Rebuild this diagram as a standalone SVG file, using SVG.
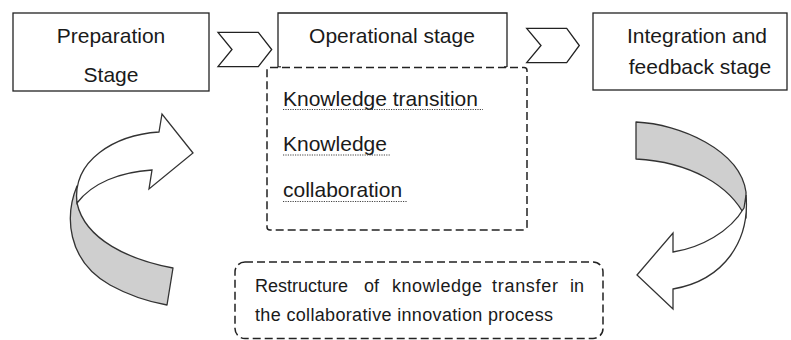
<svg xmlns="http://www.w3.org/2000/svg" width="791" height="340" viewBox="0 0 791 340">
<style>
.box{fill:#fff;stroke:#222;stroke-width:1.3}
.dash{fill:#fff;stroke:#222;stroke-width:1.5;stroke-dasharray:8 4}
.t{font-family:"Liberation Sans",Arial,sans-serif;font-size:21px;fill:#1a1a1a}
.tc{text-anchor:middle}
.s{font-size:18px}
.ul{stroke:#444;stroke-width:1;stroke-dasharray:1.2 1.2;fill:none}
.chev{fill:#fff;stroke:#222;stroke-width:1.3;stroke-linejoin:miter}
.band{fill:#cfcfcf;stroke:#333;stroke-width:1.3;stroke-linejoin:round}
.face{fill:#fff;stroke:#333;stroke-width:1.3;stroke-linejoin:miter}
</style>
<rect width="791" height="340" fill="#fff"/>
<g id="preparation">
<rect class="box" x="13" y="13" width="196" height="78"/>
<text class="t tc" x="111" y="43">Preparation</text>
<text class="t tc" x="111" y="82">Stage</text>
</g>
<g id="operational">
<path class="box" d="M278,67 V13 H507 V67 M278,67 H281 M504,67 H507" fill="none"/>
<text class="t tc" x="392" y="43">Operational stage</text>
</g>
<g id="integration">
<rect class="box" x="593" y="13" width="194" height="77"/>
<text class="t tc" x="697" y="43">Integration and</text>
<text class="t tc" x="700" y="74">feedback stage</text>
</g>
<g id="knowledge">
<rect class="dash" x="267" y="67.5" width="260" height="162.5" rx="3"/>
<text class="t" x="283" y="106">Knowledge transition</text>
<line class="ul" x1="283" y1="109.5" x2="483" y2="109.5"/>
<text class="t" x="283" y="151">Knowledge</text>
<line class="ul" x1="283" y1="155" x2="390" y2="155"/>
<text class="t" x="283" y="197">collaboration</text>
<line class="ul" x1="283" y1="201.5" x2="407" y2="201.5"/>
</g>
<g id="restructure">
<rect class="dash" x="235" y="262" width="368" height="76.5" rx="10"/>
<text class="t s" y="292"><tspan x="255">Restructure</tspan><tspan x="364">of</tspan><tspan x="392" textLength="90" lengthAdjust="spacing">knowledge</tspan><tspan x="492" textLength="66" lengthAdjust="spacing">transfer</tspan><tspan x="570">in</tspan></text>
<text class="t s" x="255" y="321" textLength="298" lengthAdjust="spacing">the collaborative innovation process</text>
</g>
<g id="connectors">
<polygon class="chev" points="218,32.3 258.3,32.3 271.7,49.5 258.3,66.7 218,66.7 232,49.5"/>
<polygon class="chev" points="526.7,28.3 566.7,28.3 579.3,45.5 566.7,62.7 526.7,62.7 541,45.5"/>
<path class="band" d="M77,186 C 65,215 66,260 110,285 C 130,296 150,302 167,305 L173,268 C 130,260 85,240 77,203 Z"/>
<path class="face" d="M77,203 C 72,160 115,135 159,132 L162,114 L193,153 L149,189 L152,170 C 120,172 92,183 77,203 Z"/>
<path class="band" d="M636,122 C 680,124 740,150 746,192 L746,218 C 730,185 690,162 636,159 Z"/>
<path class="face" d="M746,195 C 750,240 725,280 673,289 L673,309 L637,275 L673,233 L673,252 C 700,248 730,232 744,208 Z"/>
</g>
</svg>
